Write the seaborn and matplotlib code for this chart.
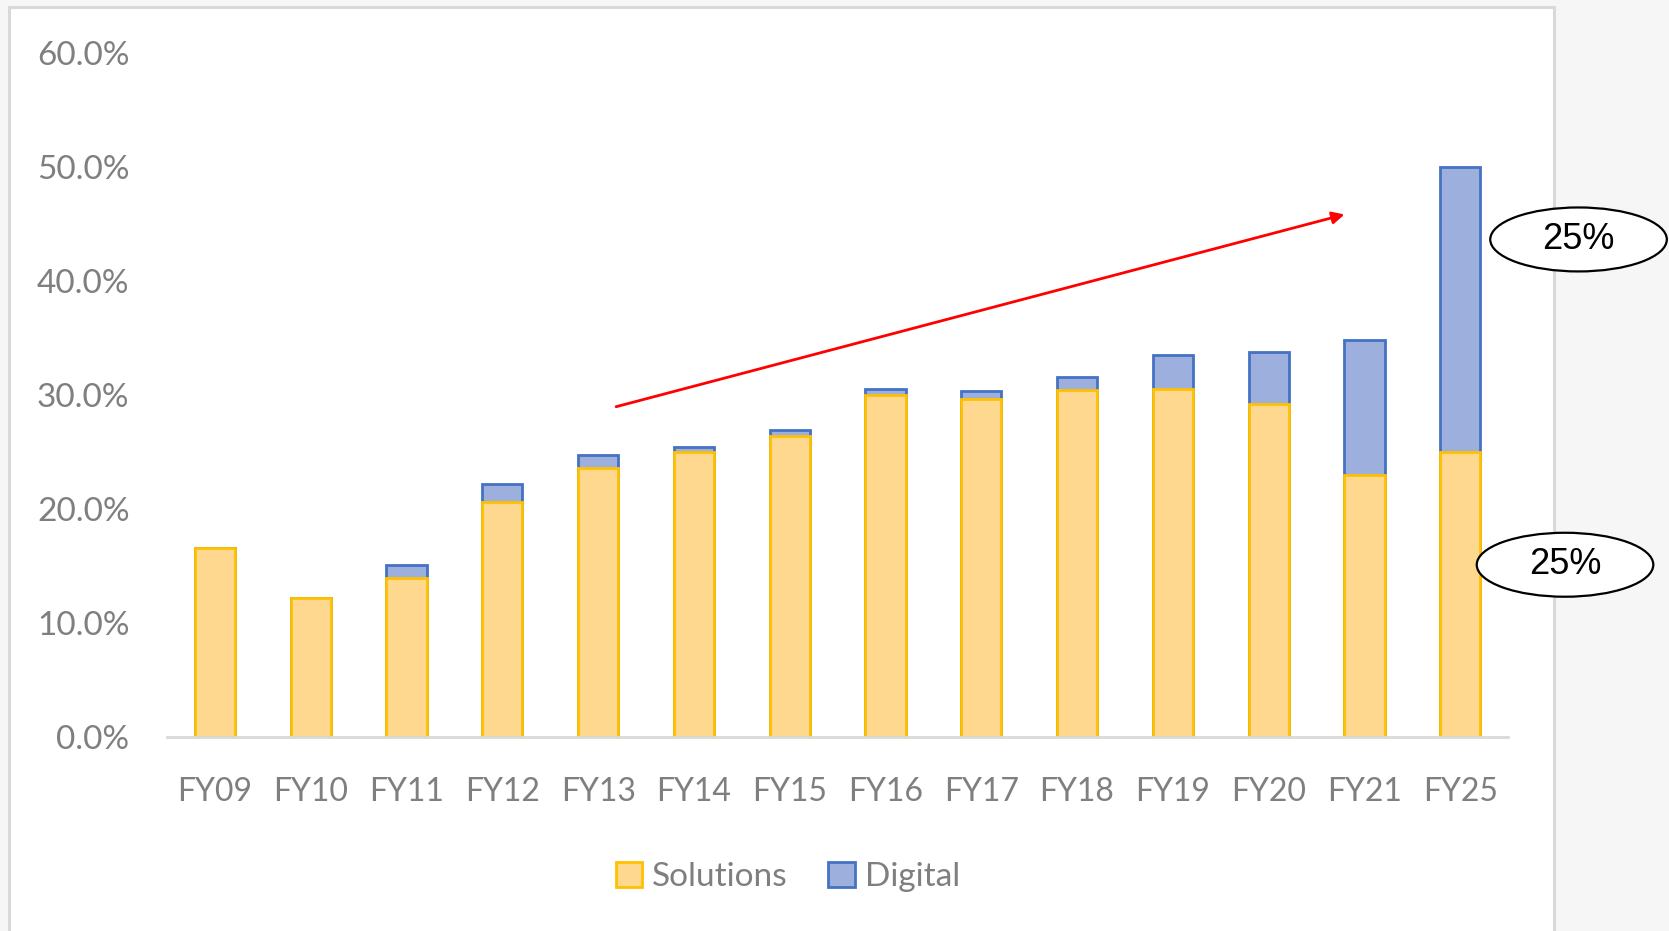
import numpy as np
import seaborn as sns
import matplotlib.pyplot as plt
from matplotlib.patches import Rectangle, Ellipse, Patch

# data (percent of revenue)
years = ["FY09", "FY10", "FY11", "FY12", "FY13", "FY14", "FY15",
         "FY16", "FY17", "FY18", "FY19", "FY20", "FY21", "FY25"]
solutions = [16.6, 12.2, 13.9, 20.6, 23.6, 25.0, 26.4, 30.0, 29.6, 30.4, 30.5, 29.2, 23.0, 25.0]
digital = [0.0, 0.0, 1.2, 1.6, 1.1, 0.4, 0.5, 0.5, 0.7, 1.2, 3.0, 4.6, 11.8, 25.0]
yticks = [0, 10, 20, 30, 40, 50, 60]
callouts = ["25%", "25%"]

total = np.array(solutions) + np.array(digital)

sns.set_theme(style="white")
plt.rcParams["font.family"] = ["Lato", "DejaVu Sans"]

sol_face, sol_edge = "#FDD88E", "#FFC000"
dig_face, dig_edge = "#9DAFDD", "#4472C4"
grey = "#7f7f7f"

fig = plt.figure(figsize=(16.69, 9.31), dpi=100)
fig.patch.set_facecolor("#f6f6f6")
# white slide box with light border
fig.add_artist(Rectangle((0.0051, -0.01), 0.9259, 1.002, transform=fig.transFigure,
                         facecolor="white", edgecolor="#d9d9d9", lw=2.2, zorder=0))

ax = fig.add_axes([0.1001, 0.2088, 0.8035, 0.7341])
ax.set_facecolor("none")

# stacked bars: draw the total as Digital, then Solutions on top of it
sns.barplot(x=years, y=total, color=dig_face, saturation=1, width=0.42,
            edgecolor=dig_edge, linewidth=2, ax=ax)
sns.barplot(x=years, y=solutions, color=sol_face, saturation=1, width=0.42,
            edgecolor=sol_edge, linewidth=2, ax=ax)

ax.set_ylim(0, 60)
ax.set_xlim(-0.5, len(years) - 0.5)
ax.set_yticks(yticks)
ax.set_yticklabels([f"{v:.1f}%" for v in yticks])
ax.tick_params(axis="y", length=0, pad=27, labelsize=24, labelcolor=grey)
ax.tick_params(axis="x", length=0, pad=29, labelsize=23, labelcolor=grey)
ax.set_xlabel("")
ax.set_ylabel("")
for s in ["top", "right", "left"]:
    ax.spines[s].set_visible(False)
ax.spines["bottom"].set_color("#d9d9d9")
ax.spines["bottom"].set_linewidth(2)

# trend arrow
ax.annotate("", xy=(11.82, 45.9), xytext=(4.16, 28.9),
            arrowprops=dict(arrowstyle="-|>", color="red", lw=2, mutation_scale=18))

# callout ellipses
for (cx, cy), txt in zip([(0.9458, 0.7428), (0.9377, 0.3934)], callouts):
    fig.add_artist(Ellipse((cx, cy), 0.1058, 0.0687, transform=fig.transFigure,
                           facecolor="white", edgecolor="black", lw=1.6, zorder=5))
    fig.text(cx, cy, txt, ha="center", va="center", fontsize=26,
             family=["Liberation Sans", "DejaVu Sans"], color="black", zorder=6)

handles = [Patch(facecolor=sol_face, edgecolor=sol_edge, lw=2, label="Solutions"),
           Patch(facecolor=dig_face, edgecolor=dig_edge, lw=2, label="Digital")]
leg = fig.legend(handles=handles, loc="center", bbox_to_anchor=(0.472, 0.058), ncol=2,
                 frameon=False, fontsize=24, handlelength=0.8, handleheight=0.8,
                 handletextpad=0.3, columnspacing=1.2)
for t in leg.get_texts():
    t.set_color(grey)

fig.savefig("out.png", dpi=100, facecolor=fig.get_facecolor())
